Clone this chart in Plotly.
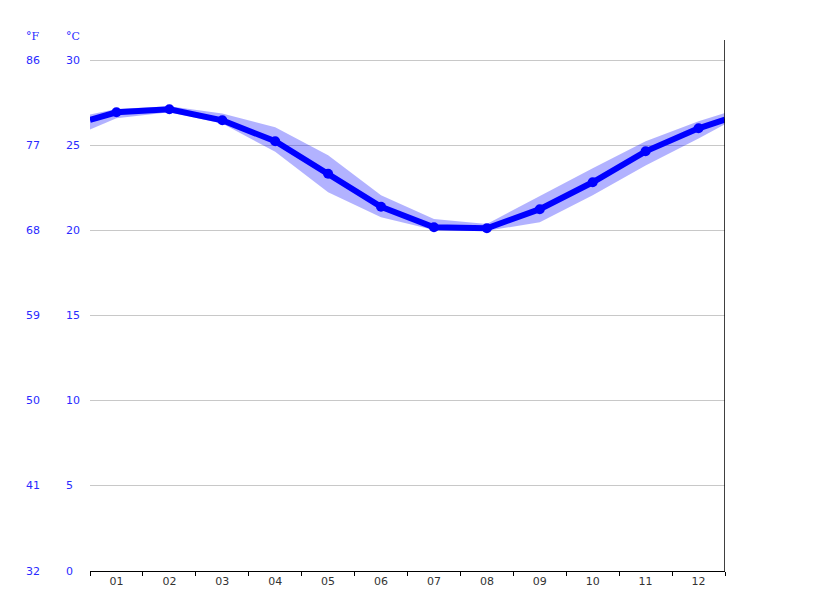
import plotly.graph_objects as go

# monthly temperature (°C)
months = ["01", "02", "03", "04", "05", "06", "07", "08", "09", "10", "11", "12"]
month_pos = [1, 2, 3, 4, 5, 6, 7, 8, 9, 10, 11, 12]
temp_mean = [26.95, 27.13, 26.48, 25.25, 23.34, 21.40, 20.20, 20.14, 21.26, 22.84, 24.66, 26.01]
temp_upper = [27.15, 27.30, 26.88, 26.07, 24.43, 22.08, 20.68, 20.39, 22.05, 23.66, 25.25, 26.42]
temp_lower = [26.60, 26.95, 26.30, 24.63, 22.25, 20.79, 20.03, 19.99, 20.49, 22.08, 23.83, 25.41]

# values at the left / right edge of the plot (year wraps around)
edge_pos = [0.5, 12.5]
edge_mean = [26.50, 26.52]
edge_upper = [26.82, 26.91]
edge_lower = [25.94, 26.25]

celsius_ticks = [0, 5, 10, 15, 20, 25, 30]
fahrenheit_ticks = [32, 41, 50, 59, 68, 77, 86]

x_all = [edge_pos[0]] + month_pos + [edge_pos[1]]
mean_all = [edge_mean[0]] + temp_mean + [edge_mean[1]]
upper_all = [edge_upper[0]] + temp_upper + [edge_upper[1]]
lower_all = [edge_lower[0]] + temp_lower + [edge_lower[1]]

blue = "#0000ff"
label_blue = "#2a2aff"

fig = go.Figure()
fig.add_trace(go.Scatter(x=x_all, y=upper_all, mode="lines", line=dict(width=0),
                         hoverinfo="skip", showlegend=False))
fig.add_trace(go.Scatter(x=x_all, y=lower_all, mode="lines", line=dict(width=0),
                         fill="tonexty", fillcolor="rgba(0,0,255,0.3)",
                         hoverinfo="skip", showlegend=False))
fig.add_trace(go.Scatter(x=x_all, y=mean_all, mode="lines",
                         line=dict(color=blue, width=6), showlegend=False))
fig.add_trace(go.Scatter(x=month_pos, y=temp_mean, mode="markers",
                         marker=dict(color=blue, size=10), showlegend=False))

# boundaries between months get the small ticks
boundaries = [m - 0.5 for m in month_pos] + [month_pos[-1] + 0.5]

# page body has an 8px margin, so the margins are offset to compensate
fig.update_layout(
    width=815, height=611,
    margin=dict(l=82, r=98, t=32, b=48),
    plot_bgcolor="white", paper_bgcolor="white",
    font=dict(family="DejaVu Sans", size=11, color="#333333"),
    xaxis=dict(range=[0.5, 12.5], tickvals=month_pos, ticktext=months, ticks="",
               showline=True, linecolor="black", linewidth=1, showgrid=False,
               zeroline=False, tickfont=dict(color="#333333", size=11),
               minor=dict(tickvals=boundaries, ticks="outside", ticklen=4,
                          tickcolor="black", showgrid=False)),
    yaxis=dict(range=[0, 31.2], tickvals=celsius_ticks[1:], showticklabels=False,
               showgrid=True, gridcolor="#c8c8c8", gridwidth=1, zeroline=False,
               showline=False, ticks=""),
)

# right-hand frame line
fig.add_shape(type="line", xref="x", yref="paper", x0=12.5, x1=12.5, y0=0, y1=1,
              line=dict(color="black", width=1.5))

# left-aligned °C / °F tick labels
for c, f in zip(celsius_ticks, fahrenheit_ticks):
    fig.add_annotation(x=0, xref="paper", xanchor="left", xshift=-26, y=c, yref="y",
                       text=str(c), showarrow=False, font=dict(color=label_blue, size=11))
    fig.add_annotation(x=0, xref="paper", xanchor="left", xshift=-66, y=c, yref="y",
                       text=str(f), showarrow=False, font=dict(color=label_blue, size=11))

fig.add_annotation(x=0, xref="paper", xanchor="left", xshift=-66, y=1, yref="paper",
                   yanchor="middle", yshift=4, text="°F", showarrow=False,
                   font=dict(family="DejaVu Serif", color=label_blue, size=11))
fig.add_annotation(x=0, xref="paper", xanchor="left", xshift=-26, y=1, yref="paper",
                   yanchor="middle", yshift=4, text="°C", showarrow=False,
                   font=dict(family="DejaVu Serif", color=label_blue, size=11))

fig.write_html("out.html")
